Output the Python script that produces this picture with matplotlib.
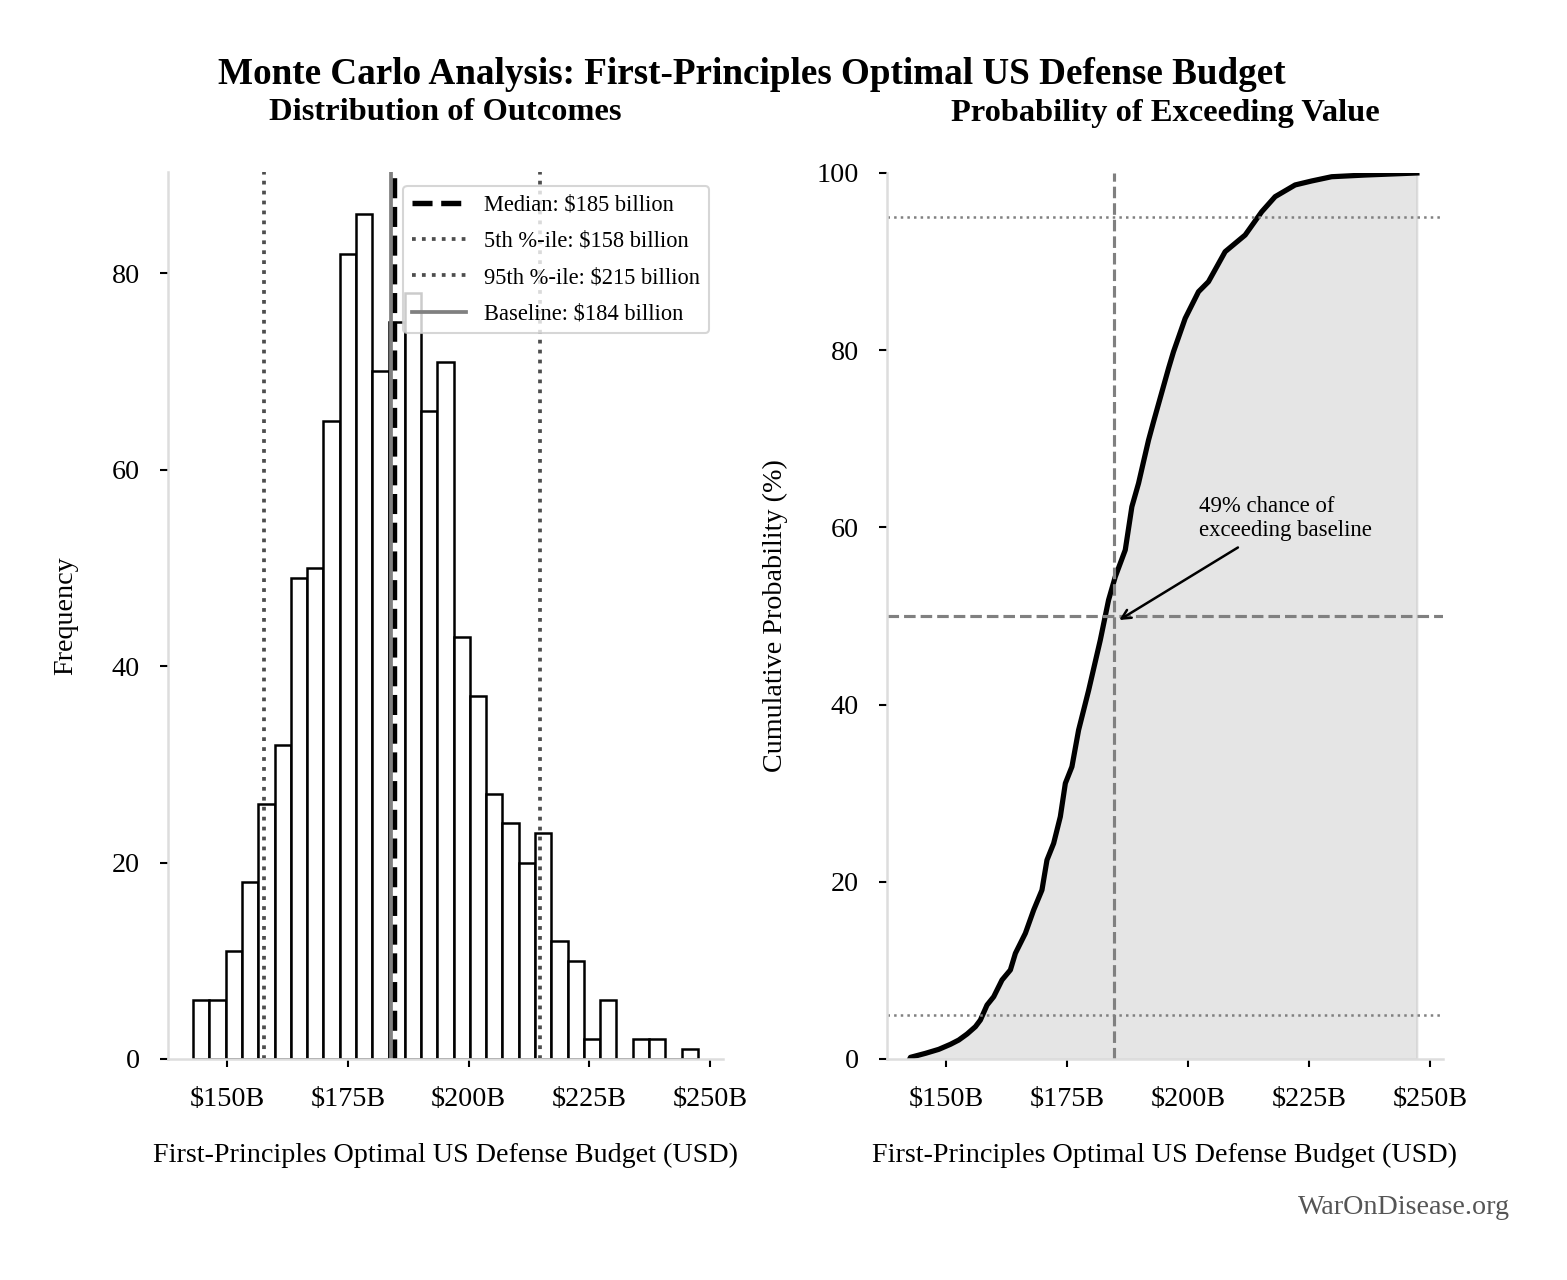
import numpy as np
import matplotlib
matplotlib.use('Agg')
import matplotlib.pyplot as plt

plt.rcParams['font.family'] = ['Liberation Serif', 'DejaVu Serif']

# histogram counts (31 equal bins)
bin_low = 142.9
bin_high = 247.5
counts = [6, 6, 11, 18, 26, 32, 49, 50, 65, 82, 86, 70, 75, 78, 66, 71,
          43, 37, 27, 24, 20, 23, 12, 10, 2, 6, 0, 2, 2, 0, 1]

# summary values ($ billion)
median = 184.6
p5 = 157.5
p95 = 214.8
baseline = 184.0

# cumulative curve, read point by point
cdf_x = [142.4, 142.56, 145.66, 148.41, 150.83, 152.54, 154.26, 155.99, 157.02,
         158.39, 159.77, 161.49, 163.22, 164.26, 166.32, 168.04, 169.75, 170.79,
         172.17, 173.55, 174.59, 175.95, 177.33, 179.40, 181.82, 183.53, 184.92,
         186.98, 188.35, 189.73, 190.76, 191.80, 192.83, 195.93, 196.96, 199.38,
         202.13, 204.19, 207.64, 211.78, 215.21, 217.98, 222.11, 225.54, 229.67,
         236.57, 247.3]
cdf_pct = [0.0, 0.19, 0.64, 1.09, 1.66, 2.14, 2.82, 3.65, 4.40,
           6.09, 7.03, 8.92, 10.05, 11.93, 14.19, 16.82, 19.07, 22.46,
           24.34, 27.35, 31.12, 32.99, 37.13, 41.6, 47.29, 51.81, 54.44,
           57.45, 62.34, 64.98, 67.42, 69.86, 71.93, 77.95, 79.83, 83.60,
           86.60, 87.73, 91.12, 93.00, 95.63, 97.33, 98.65, 99.10, 99.58,
           99.77, 100.0]

xticks = [150, 175, 200, 225, 250]
xticklabels = ['$150B', '$175B', '$200B', '$225B', '$250B']
xlim = (137.7, 252.7)

fig = plt.figure(figsize=(1567 / 150, 1280 / 150), dpi=150)
ax1 = fig.add_axes([168 / 1567, 221 / 1280, 555 / 1567, 887 / 1280])
ax2 = fig.add_axes([887 / 1567, 221 / 1280, 556 / 1567, 886 / 1280])

# ---- left: histogram
width = (bin_high - bin_low) / len(counts)
lefts = [bin_low + i * width for i in range(len(counts))]
ax1.bar(lefts, counts, width=width, align='edge', color='white',
        edgecolor='black', linewidth=1.2)
ax1.axvline(median, color='black', linestyle='--', linewidth=2.6,
            label=f'Median: ${median:.0f} billion')
ax1.axvline(p5, color='0.3', linestyle=':', linewidth=1.8,
            label=f'5th %-ile: ${p5:.0f} billion')
ax1.axvline(p95, color='0.3', linestyle=':', linewidth=1.8,
            label=f'95th %-ile: ${p95:.0f} billion')
ax1.axvline(baseline, color='0.5', linestyle='-', linewidth=1.8,
            label=f'Baseline: ${baseline:.0f} billion')
ax1.set_xlim(xlim)
ax1.set_yticks([0, 20, 40, 60, 80])
ax1.set_ylabel('Frequency', fontsize=13.5)
ax1.yaxis.set_label_coords(-0.162, 0.5)
ax1.set_title('Distribution of Outcomes', fontsize=15.6, fontweight='bold', pad=25)
leg = ax1.legend(loc='upper right', fontsize=10.8, frameon=True, fancybox=True,
                 borderaxespad=0.6, handlelength=2.4, handletextpad=0.8,
                 labelspacing=0.68)
leg.get_frame().set_edgecolor('#cccccc')
leg.get_frame().set_linewidth(1.0)

# ---- right: cumulative probability
ax2.fill_between(cdf_x, cdf_pct, color='gray', alpha=0.2)
ax2.plot(cdf_x, cdf_pct, color='black', linewidth=2.5)
ax2.axvline(baseline + 0.7, color='0.5', linestyle='--', linewidth=1.5)
ax2.axhline(50, color='0.5', linestyle='--', linewidth=1.5)
ax2.axhline(5, color='0.5', linestyle=':', linewidth=1.2)
ax2.axhline(95, color='0.5', linestyle=':', linewidth=1.2)
ax2.annotate('49% chance of\nexceeding baseline', xy=(185.0, 49.3),
             xytext=(202.2, 61.0), fontsize=10.9, ha='left', va='center',
             arrowprops=dict(arrowstyle='->', color='black', lw=1.2))
ax2.set_xlim(xlim)
ax2.set_ylim(0, 100)
ax2.set_yticks([0, 20, 40, 60, 80, 100])
ax2.set_ylabel('Cumulative Probability (%)', fontsize=13.5)
ax2.yaxis.set_label_coords(-0.178, 0.5)
ax2.set_title('Probability of Exceeding Value', fontsize=15.6, fontweight='bold', pad=25)

for ax in (ax1, ax2):
    ax.set_xticks(xticks)
    ax.set_xticklabels(xticklabels)
    ax.set_xlabel('First-Principles Optimal US Defense Budget (USD)', fontsize=13.5)
    ax.xaxis.set_label_coords(0.5, -0.095)
    ax.tick_params(axis='both', labelsize=13.5, length=4, width=1.0, pad=9.5)
    for side in ('top', 'right'):
        ax.spines[side].set_visible(False)
    for side in ('left', 'bottom'):
        ax.spines[side].set_color('#dddddd')
        ax.spines[side].set_linewidth(1.2)

fig.suptitle('Monte Carlo Analysis: First-Principles Optimal US Defense Budget',
             fontsize=17.8, fontweight='bold', x=0.48, y=0.942, va='center')
fig.text(0.9636, 0.0563, 'WarOnDisease.org', fontsize=13.5, color='#555555',
         ha='right', va='center')

fig.savefig('out.png', dpi=150)
